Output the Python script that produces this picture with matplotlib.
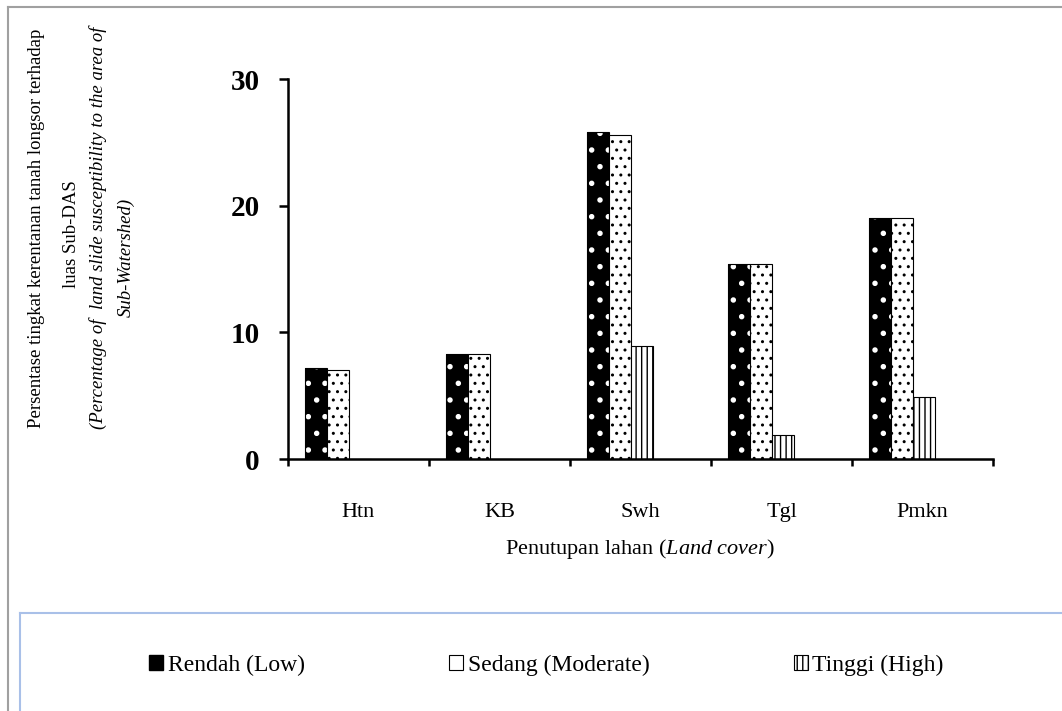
import numpy as np
import matplotlib
matplotlib.use("Agg")
import matplotlib.pyplot as plt
from matplotlib.lines import Line2D
from matplotlib.patches import Patch

plt.rcParams['font.family'] = ['Liberation Serif', 'DejaVu Serif']
plt.rcParams['mathtext.fontset'] = 'custom'
plt.rcParams['mathtext.rm'] = 'Liberation Serif'
plt.rcParams['mathtext.it'] = 'Liberation Serif:italic'
plt.rcParams['hatch.linewidth'] = 1.0

# data
categories = ["Htn", "KB", "Swh", "Tgl", "Pmkn"]
rendah = [7.2, 8.3, 25.8, 15.4, 19.0]
sedang = [7.0, 8.3, 25.6, 15.4, 19.0]
tinggi = [0.0, 0.0, 8.9, 1.9, 4.9]
series_names = ["Rendah (Low)", "Sedang (Moderate)", "Tinggi (High)"]

W, H = 1062, 711
fig = plt.figure(figsize=(W / 100, H / 100), dpi=100)
ax = fig.add_axes([288 / W, 1 - 459 / H, (993 - 288) / W, (459 - 79) / H])

x = np.arange(len(categories))
bw = 0.156
offsets = [-0.30, -0.145, 0.01]

# Rendah: black with white dots (hatch colour follows edgecolor)
with plt.rc_context({'hatch.linewidth': 1.5}):
    ax.bar(x + offsets[0], rendah, bw, color="black", edgecolor="white", hatch=".", linewidth=0)
ax.bar(x + offsets[0], rendah, bw, fill=False, edgecolor="black", linewidth=0.8)
ax.bar(x + offsets[1], sedang, bw, color="white", edgecolor="black", hatch="..", linewidth=0.8)
ax.bar(x + offsets[2], tinggi, bw, color="white", edgecolor="black", hatch="|||", linewidth=0.8)

ax.set_xlim(-0.5, len(categories) - 0.5)
ax.set_ylim(0, 30)
ax.set_yticks([0, 10, 20, 30])
for lab in ax.get_yticklabels():
    lab.set_fontweight("bold")
ax.tick_params(axis="y", direction="out", length=6.5, width=1.8, labelsize=21, pad=14)

ax.set_xticks(np.arange(len(categories) + 1) - 0.5)
ax.set_xticklabels([])
ax.set_xticks(x, minor=True)
ax.set_xticklabels(categories, minor=True)
ax.tick_params(axis="x", which="major", direction="out", length=5, width=1.8)
ax.tick_params(axis="x", which="minor", length=0, labelsize=16, pad=32)

for s in ["top", "right"]:
    ax.spines[s].set_visible(False)
for s in ["left", "bottom"]:
    ax.spines[s].set_linewidth(1.8)

fig.text(640 / W, 1 - 549 / H, r"Penutupan lahan ($\mathit{Land\ cover}$)",
         ha="center", va="center", fontsize=16)

# y-axis title in four rotated lines
yc = 1 - 228 / H
fig.text(37 / W, yc, "Persentase tingkat kerentanan tanah longsor terhadap",
         rotation=90, ha="center", va="center", fontsize=13.5)
fig.text(72 / W, 1 - 234 / H, "luas Sub-DAS",
         rotation=90, ha="center", va="center", fontsize=13.5)
fig.text(98 / W, yc, "(Percentage of  land slide susceptibility to the area of",
         rotation=90, ha="center", va="center", fontsize=13.5, style="italic")
fig.text(126 / W, 1 - 257 / H, "Sub-Watershed)",
         rotation=90, ha="center", va="center", fontsize=13.5, style="italic")

# outer frame and legend box
fig.add_artist(Line2D([8 / W, 1], [1 - 7 / H, 1 - 7 / H], color="#a0a0a0", lw=1.5))
fig.add_artist(Line2D([8 / W, 8 / W], [0, 1 - 7 / H], color="#a0a0a0", lw=1.5))
fig.add_artist(Line2D([20 / W, 1], [1 - 613 / H, 1 - 613 / H], color="#a9c0e8", lw=1.5))
fig.add_artist(Line2D([20 / W, 20 / W], [0, 1 - 613 / H], color="#a9c0e8", lw=1.5))

handles = [
    Patch(facecolor="black", edgecolor="black"),
    Patch(facecolor="white", edgecolor="black", linewidth=0.8),
    Patch(facecolor="white", edgecolor="black", hatch="|||", linewidth=0.8),
]
fig.legend(handles, series_names, loc="center left", bbox_to_anchor=(149 / W, 1 - 665 / H),
           ncol=3, frameon=False, fontsize=17, handlelength=0.6, handleheight=0.6,
           handletextpad=0.2, columnspacing=6.1, borderaxespad=0, borderpad=0)

fig.savefig("out.png", dpi=100)
